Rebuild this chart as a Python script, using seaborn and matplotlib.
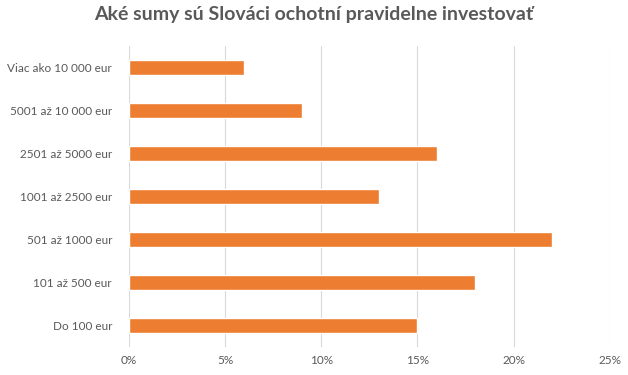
import matplotlib
matplotlib.use("Agg")
import matplotlib.pyplot as plt
import seaborn as sns
import pandas as pd
from matplotlib.ticker import PercentFormatter

# 
# Dados do gráfico
#
kategorie = ["Viac ako 10 000 eur", "5001 až 10 000 eur", "2501 až 5000 eur",
             "1001 až 2500 eur", "501 až 1000 eur", "101 až 500 eur", "Do 100 eur"]
hodnoty = [6, 9, 16, 13, 22, 18, 15]
xticky = [0, 5, 10, 15, 20, 25]

df = pd.DataFrame({"kategoria": kategorie, "hodnota": hodnoty})

sns.set_style("white")
plt.rcParams["font.family"] = ["Lato", "DejaVu Sans"]

Grafico = plt.figure(figsize=(6.28, 3.75), dpi=100)
ax = Grafico.add_axes([0.205, 0.075, 0.766, 0.802])

sns.barplot(data=df, x="hodnota", y="kategoria", color="#ED7D31",
            saturation=1, width=0.36, ax=ax, zorder=3)

ax.set_xlim(0, 25)
ax.set_xticks(xticky)
ax.xaxis.set_major_formatter(PercentFormatter(decimals=0))
ax.grid(axis="x", color="#D9D9D9", linewidth=0.8, zorder=0)
ax.grid(axis="y", visible=False)
for s in ax.spines.values():
    s.set_visible(False)
ax.tick_params(axis="both", length=0, labelsize=8.5, labelcolor="#595959")
ax.tick_params(axis="x", pad=6)
ax.tick_params(axis="y", pad=12)
ax.set_xlabel("")
ax.set_ylabel("")

Grafico.suptitle("Aké sumy sú Slováci ochotní pravidelne investovať",
                 x=0.5, y=0.985, fontsize=14, fontweight="bold", color="#595959")

Grafico.savefig("out.png", dpi=100)
